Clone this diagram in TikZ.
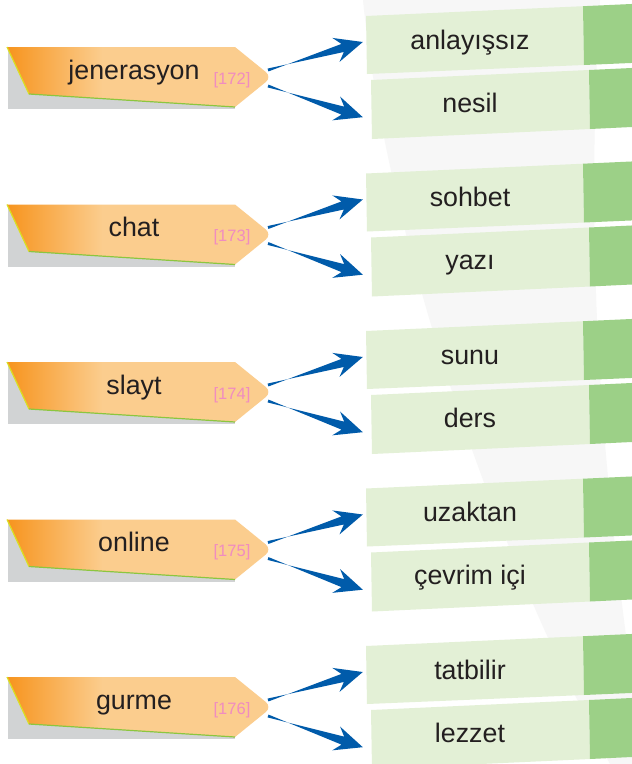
\documentclass[tikz,border=0pt]{standalone}
\usepackage{fontspec}
\setmainfont{Liberation Sans}
\usetikzlibrary{calc}

\definecolor{azul}{RGB}{0,91,170}
\definecolor{naranjaosc}{RGB}{247,148,30}
\definecolor{naranjacla}{RGB}{251,205,142}
\definecolor{gris}{RGB}{209,211,212}
\definecolor{amarillo}{RGB}{217,224,33}
\definecolor{verdelin}{RGB}{140,198,63}
\definecolor{rosa}{RGB}{240,140,192}
\definecolor{verdecla}{RGB}{227,240,214}
\definecolor{verdeosc}{RGB}{156,208,135}
\definecolor{texto}{RGB}{35,31,32}
\definecolor{fondo}{RGB}{247,247,247}

\pgfdeclarehorizontalshading{naranja}{100bp}{color(0bp)=(naranjaosc); color(25bp)=(naranjaosc); color(43bp)=(naranjacla); color(100bp)=(naranjacla)}

\tikzset{
  sombra/.style={fill=gris},
  etiqueta/.style={shading=naranja},
  filo1/.style={draw=amarillo, line width=1.2pt},
  filo2/.style={draw=verdelin, line width=1.2pt},
  palabra/.style={font=\fontsize{26.8}{30}\selectfont, text=texto, text height=19pt, text depth=5pt, inner sep=0pt},
  numero/.style={font=\fontsize{16.5}{19}\selectfont, text=rosa, anchor=base, inner sep=0pt},
  respuesta/.style={palabra, minimum width=214pt},
  clara/.style={fill=verdecla},
  oscura/.style={fill=verdeosc},
  flecha/.style={fill=azul, to path={
      ($(\tikztostart)!1.5pt!90:(\tikztotarget)$)
      -- ($(\tikztotarget)!21pt!(\tikztostart)!4.2pt!-90:(\tikztotarget)$)
      -- ($(\tikztotarget)!28pt!(\tikztostart)!12.5pt!-90:(\tikztotarget)$)
      -- (\tikztotarget)
      -- ($(\tikztotarget)!28pt!(\tikztostart)!12.5pt!90:(\tikztotarget)$)
      -- ($(\tikztotarget)!21pt!(\tikztostart)!4.2pt!90:(\tikztotarget)$)
      -- ($(\tikztostart)!1.5pt!-90:(\tikztotarget)$) -- cycle}}
}

\begin{document}
\begin{tikzpicture}[x=1pt,y=-1pt]
  \clip (0,0) rectangle (632,764);
  \fill[white] (0,0) rectangle (632,764);

  % Franja gris del fondo
  \fill[fondo] (363,0) .. controls (385,220) and (480,520) .. (610,764) -- (632,764) -- (632,680)
    .. controls (600,450) and (585,250) .. (600,0) -- cycle;

  % Grupo 1: jenerasyon
  \begin{scope}[shift={(0,47)}]
    \fill[sombra] (8,3) rectangle (235,62);
    \shade[etiqueta] (7,0) -- (235,0) [rounded corners=8pt] -- (272,30) [sharp corners] -- (235,60) -- (29,47) -- cycle;
    \draw[filo1] (7,0) -- (29,47);
    \draw[filo2] (29,47) -- (235,60);
    \node[palabra] (w1) at (134,25) {jenerasyon};
    \node[numero] (n1) at (232,37) {[172]};
    \coordinate (s1a) at (268,23);
    \coordinate (s1b) at (268,39);
    % Cajas de respuesta
    \fill[clara] (366,-31) -- (583,-40.8) -- (584,18) -- (367,27) -- cycle;
    \fill[oscura] (583,-40.8) -- (640,-43.4) -- (640,15.6) -- (584,18) -- cycle;
    \fill[clara] (371,33) -- (589,23) -- (590,82) -- (372,92) -- cycle;
    \fill[oscura] (589,23) -- (640,20.6) -- (640,79.6) -- (590,82) -- cycle;
    \node[respuesta] (r1a) at (470,-5) {anlayışsız};
    \node[respuesta] (r1b) at (470,58) {nesil};
    \fill[flecha] (s1a) to (r1a.west);
    \fill[flecha] (s1b) to (r1b.south west);
  \end{scope}

  % Grupo 2: chat
  \begin{scope}[shift={(0,204.5)}]
    \fill[sombra] (8,3) rectangle (235,62);
    \shade[etiqueta] (7,0) -- (235,0) [rounded corners=8pt] -- (272,30) [sharp corners] -- (235,60) -- (29,47) -- cycle;
    \draw[filo1] (7,0) -- (29,47);
    \draw[filo2] (29,47) -- (235,60);
    \node[palabra] (w2) at (134,25) {chat};
    \node[numero] (n2) at (232,37) {[173]};
    \coordinate (s2a) at (268,23);
    \coordinate (s2b) at (268,39);
    % Cajas de respuesta
    \fill[clara] (366,-31) -- (583,-40.8) -- (584,18) -- (367,27) -- cycle;
    \fill[oscura] (583,-40.8) -- (640,-43.4) -- (640,15.6) -- (584,18) -- cycle;
    \fill[clara] (371,33) -- (589,23) -- (590,82) -- (372,92) -- cycle;
    \fill[oscura] (589,23) -- (640,20.6) -- (640,79.6) -- (590,82) -- cycle;
    \node[respuesta] (r2a) at (470,-5) {sohbet};
    \node[respuesta] (r2b) at (470,58) {yazı};
    \fill[flecha] (s2a) to (r2a.west);
    \fill[flecha] (s2b) to (r2b.south west);
  \end{scope}

  % Grupo 3: slayt
  \begin{scope}[shift={(0,362)}]
    \fill[sombra] (8,3) rectangle (235,62);
    \shade[etiqueta] (7,0) -- (235,0) [rounded corners=8pt] -- (272,30) [sharp corners] -- (235,60) -- (29,47) -- cycle;
    \draw[filo1] (7,0) -- (29,47);
    \draw[filo2] (29,47) -- (235,60);
    \node[palabra] (w3) at (134,25) {slayt};
    \node[numero] (n3) at (232,37) {[174]};
    \coordinate (s3a) at (268,23);
    \coordinate (s3b) at (268,39);
    % Cajas de respuesta
    \fill[clara] (366,-31) -- (583,-40.8) -- (584,18) -- (367,27) -- cycle;
    \fill[oscura] (583,-40.8) -- (640,-43.4) -- (640,15.6) -- (584,18) -- cycle;
    \fill[clara] (371,33) -- (589,23) -- (590,82) -- (372,92) -- cycle;
    \fill[oscura] (589,23) -- (640,20.6) -- (640,79.6) -- (590,82) -- cycle;
    \node[respuesta] (r3a) at (470,-5) {sunu};
    \node[respuesta] (r3b) at (470,58) {ders};
    \fill[flecha] (s3a) to (r3a.west);
    \fill[flecha] (s3b) to (r3b.south west);
  \end{scope}

  % Grupo 4: online
  \begin{scope}[shift={(0,519.5)}]
    \fill[sombra] (8,3) rectangle (235,62);
    \shade[etiqueta] (7,0) -- (235,0) [rounded corners=8pt] -- (272,30) [sharp corners] -- (235,60) -- (29,47) -- cycle;
    \draw[filo1] (7,0) -- (29,47);
    \draw[filo2] (29,47) -- (235,60);
    \node[palabra] (w4) at (134,25) {online};
    \node[numero] (n4) at (232,37) {[175]};
    \coordinate (s4a) at (268,23);
    \coordinate (s4b) at (268,39);
    % Cajas de respuesta
    \fill[clara] (366,-31) -- (583,-40.8) -- (584,18) -- (367,27) -- cycle;
    \fill[oscura] (583,-40.8) -- (640,-43.4) -- (640,15.6) -- (584,18) -- cycle;
    \fill[clara] (371,33) -- (589,23) -- (590,82) -- (372,92) -- cycle;
    \fill[oscura] (589,23) -- (640,20.6) -- (640,79.6) -- (590,82) -- cycle;
    \node[respuesta] (r4a) at (470,-5) {uzaktan};
    \node[respuesta] (r4b) at (470,58) {çevrim içi};
    \fill[flecha] (s4a) to (r4a.west);
    \fill[flecha] (s4b) to (r4b.south west);
  \end{scope}

  % Grupo 5: gurme
  \begin{scope}[shift={(0,677)}]
    \fill[sombra] (8,3) rectangle (235,62);
    \shade[etiqueta] (7,0) -- (235,0) [rounded corners=8pt] -- (272,30) [sharp corners] -- (235,60) -- (29,47) -- cycle;
    \draw[filo1] (7,0) -- (29,47);
    \draw[filo2] (29,47) -- (235,60);
    \node[palabra] (w5) at (134,25) {gurme};
    \node[numero] (n5) at (232,37) {[176]};
    \coordinate (s5a) at (268,23);
    \coordinate (s5b) at (268,39);
    % Cajas de respuesta
    \fill[clara] (366,-31) -- (583,-40.8) -- (584,18) -- (367,27) -- cycle;
    \fill[oscura] (583,-40.8) -- (640,-43.4) -- (640,15.6) -- (584,18) -- cycle;
    \fill[clara] (371,33) -- (589,23) -- (590,82) -- (372,92) -- cycle;
    \fill[oscura] (589,23) -- (640,20.6) -- (640,79.6) -- (590,82) -- cycle;
    \node[respuesta] (r5a) at (470,-5) {tatbilir};
    \node[respuesta] (r5b) at (470,58) {lezzet};
    \fill[flecha] (s5a) to (r5a.west);
    \fill[flecha] (s5b) to (r5b.south west);
  \end{scope}
\end{tikzpicture}
\end{document}
